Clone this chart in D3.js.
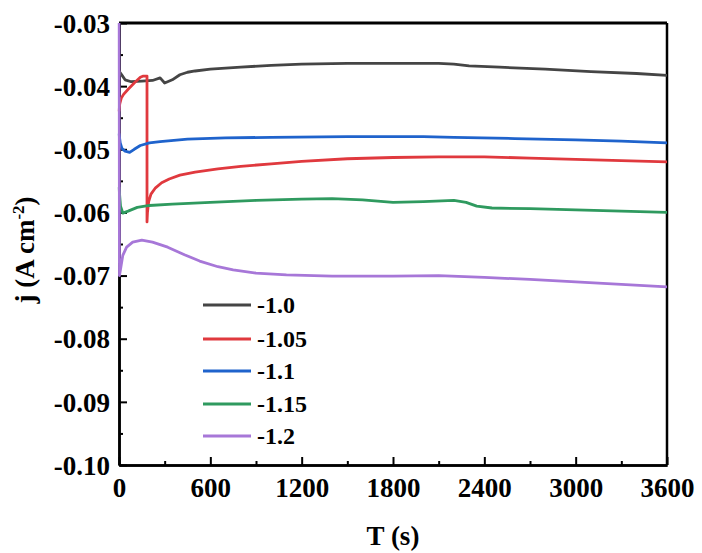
<!DOCTYPE html>
<html><head><meta charset="utf-8">
<script src="https://cdn.jsdelivr.net/npm/d3@7"></script>
<style>
body{margin:0;background:#fff;}
</style></head><body>
<svg id="chart" width="702" height="553"></svg>
<script>
const seriesNames = ["-1.0","-1.05","-1.1","-1.15","-1.2"];
const seriesColors = ["#454545","#e0393e","#1f63cc","#2f9a5f","#a777d8"];

const s10 = [[0,-0.0376],[20,-0.0383],[40,-0.0390],[80,-0.0393],[150,-0.0392],[220,-0.0391],[270,-0.0387],[300,-0.0395],[350,-0.0390],[400,-0.0382],[450,-0.0378],[500,-0.0376],[600,-0.0373],[800,-0.0370],[1000,-0.0367],[1200,-0.0365],[1500,-0.0364],[1800,-0.0364],[2100,-0.0364],[2200,-0.0365],[2300,-0.0368],[2500,-0.0370],[2800,-0.0373],[3100,-0.0377],[3400,-0.0380],[3600,-0.0383]];
const s105 = [[0,-0.0440],[5,-0.0428],[15,-0.0419],[30,-0.0413],[60,-0.0405],[100,-0.0395],[140,-0.0386],[160,-0.0384],[184,-0.0384],[184,-0.0615],[187,-0.0600],[195,-0.0583],[210,-0.0571],[240,-0.0561],[280,-0.0553],[330,-0.0547],[400,-0.0541],[500,-0.0536],[650,-0.0531],[800,-0.0527],[1000,-0.0523],[1200,-0.0519],[1500,-0.0515],[1800,-0.0513],[2100,-0.0512],[2400,-0.0512],[2700,-0.0514],[3000,-0.0516],[3300,-0.0518],[3600,-0.0520]];
const s11 = [[0,-0.0475],[8,-0.0490],[20,-0.0499],[40,-0.0503],[70,-0.0505],[100,-0.0500],[140,-0.0494],[200,-0.0490],[270,-0.0488],[450,-0.0484],[700,-0.0482],[1000,-0.0481],[1500,-0.0480],[2000,-0.0480],[2200,-0.0481],[2600,-0.0483],[3000,-0.0485],[3300,-0.0487],[3600,-0.0490]];
const s115 = [[0,-0.0560],[10,-0.0590],[25,-0.0601],[60,-0.0598],[120,-0.0592],[200,-0.0589],[350,-0.0587],[600,-0.0584],[900,-0.0581],[1200,-0.0579],[1400,-0.0578],[1600,-0.0580],[1800,-0.0584],[2000,-0.0583],[2200,-0.0581],[2280,-0.0584],[2350,-0.0590],[2450,-0.0593],[2700,-0.0594],[3000,-0.0596],[3300,-0.0598],[3600,-0.0600]];
const s12 = [[0,-0.0300],[3,-0.0700],[10,-0.0690],[25,-0.0668],[50,-0.0655],[90,-0.0647],[150,-0.0644],[220,-0.0647],[320,-0.0655],[430,-0.0667],[530,-0.0677],[650,-0.0686],[750,-0.0691],[900,-0.0696],[1100,-0.0699],[1400,-0.0701],[1800,-0.0701],[2100,-0.0700],[2400,-0.0703],[2700,-0.0706],[3000,-0.0710],[3300,-0.0714],[3600,-0.0718]];
const seriesData = [s10,s105,s11,s115,s12];

const xTicks = [0,600,1200,1800,2400,3000,3600];
const yTicks = [-0.03,-0.04,-0.05,-0.06,-0.07,-0.08,-0.09,-0.10];

const FONT = '"Times New Roman","Liberation Serif",serif';
const L=119, R=667, T=23, B=465;
const svg = d3.select("#chart");
const x = d3.scaleLinear().domain([0,3600]).range([L,R]);
const y = d3.scaleLinear().domain([-0.10,-0.03]).range([B,T]);

svg.append("defs").append("clipPath").attr("id","clip")
  .append("rect").attr("x",L-1.5).attr("y",T).attr("width",R-L+1.5).attr("height",B-T);

// frame
svg.append("line").attr("x1",L).attr("x2",R).attr("y1",T).attr("y2",T).attr("stroke","#000").attr("stroke-width",3);
svg.append("line").attr("x1",R).attr("x2",R).attr("y1",T).attr("y2",B).attr("stroke","#000").attr("stroke-width",2.5);

// axes
const xMinor = d3.range(300,3600,600);
const yMinor = d3.range(-0.095,-0.03,0.01);
const yFmt = d => d3.format(".2f")(d).replace("\u2212","-");
const xAxis = svg.append("g").attr("transform",`translate(0,${B})`)
  .call(d3.axisBottom(x).tickValues(xTicks).tickFormat(d3.format("d")).tickSizeInner(-8).tickSizeOuter(0).tickPadding(13));
const xAxisMinor = svg.append("g").attr("transform",`translate(0,${B})`)
  .call(d3.axisBottom(x).tickValues(xMinor).tickFormat("").tickSizeInner(-4).tickSizeOuter(0));
const yAxis = svg.append("g").attr("transform",`translate(${L},0)`)
  .call(d3.axisLeft(y).tickValues(yTicks).tickFormat(yFmt).tickSizeInner(-8).tickSizeOuter(0).tickPadding(9));
const yAxisMinor = svg.append("g").attr("transform",`translate(${L},0)`)
  .call(d3.axisLeft(y).tickValues(yMinor).tickFormat("").tickSizeInner(-4).tickSizeOuter(0));
[xAxis,yAxis,xAxisMinor,yAxisMinor].forEach(a=>{
  a.select(".domain").attr("stroke","#000").attr("stroke-width",2.5);
  a.selectAll(".tick line").attr("stroke","#000").attr("stroke-width",2);
});
xAxis.selectAll(".tick text").attr("dy","0.71em");
yAxis.selectAll(".tick text").attr("dy","0.34em");

// series (drawn over the axes, as in the reference)
const line = d3.line().x(d=>x(d[0])).y(d=>y(d[1]));
const g = svg.append("g").attr("clip-path","url(#clip)");
seriesData.forEach((s,i)=>{
  g.append("path").datum(s).attr("d",line).attr("fill","none")
    .attr("stroke",seriesColors[i]).attr("stroke-width",2.8).attr("stroke-linejoin","round");
});

// labels
svg.append("text").attr("x",393).attr("y",545).attr("text-anchor","middle").attr("font-size",27).text("T (s)");
const yl = svg.append("text").attr("transform","translate(34,250) rotate(-90)").attr("text-anchor","middle").attr("font-size",27);
yl.append("tspan").text("j (A cm");
yl.append("tspan").attr("font-size",17).attr("dy",-10).text("-2");
yl.append("tspan").attr("dy",10).text(")");

// legend
const legY = [305,339,371,404,436];
seriesNames.forEach((n,i)=>{
  svg.append("line").attr("x1",203).attr("x2",251).attr("y1",legY[i]).attr("y2",legY[i])
    .attr("stroke",seriesColors[i]).attr("stroke-width",3);
  svg.append("text").attr("x",257).attr("y",legY[i]).attr("dy","0.35em").attr("font-size",24).text(n);
});

svg.selectAll("text").style("font-family",FONT).style("font-weight","bold").style("fill","#000");
svg.selectAll(".tick text").style("font-size","27px");
</script></body></html>
